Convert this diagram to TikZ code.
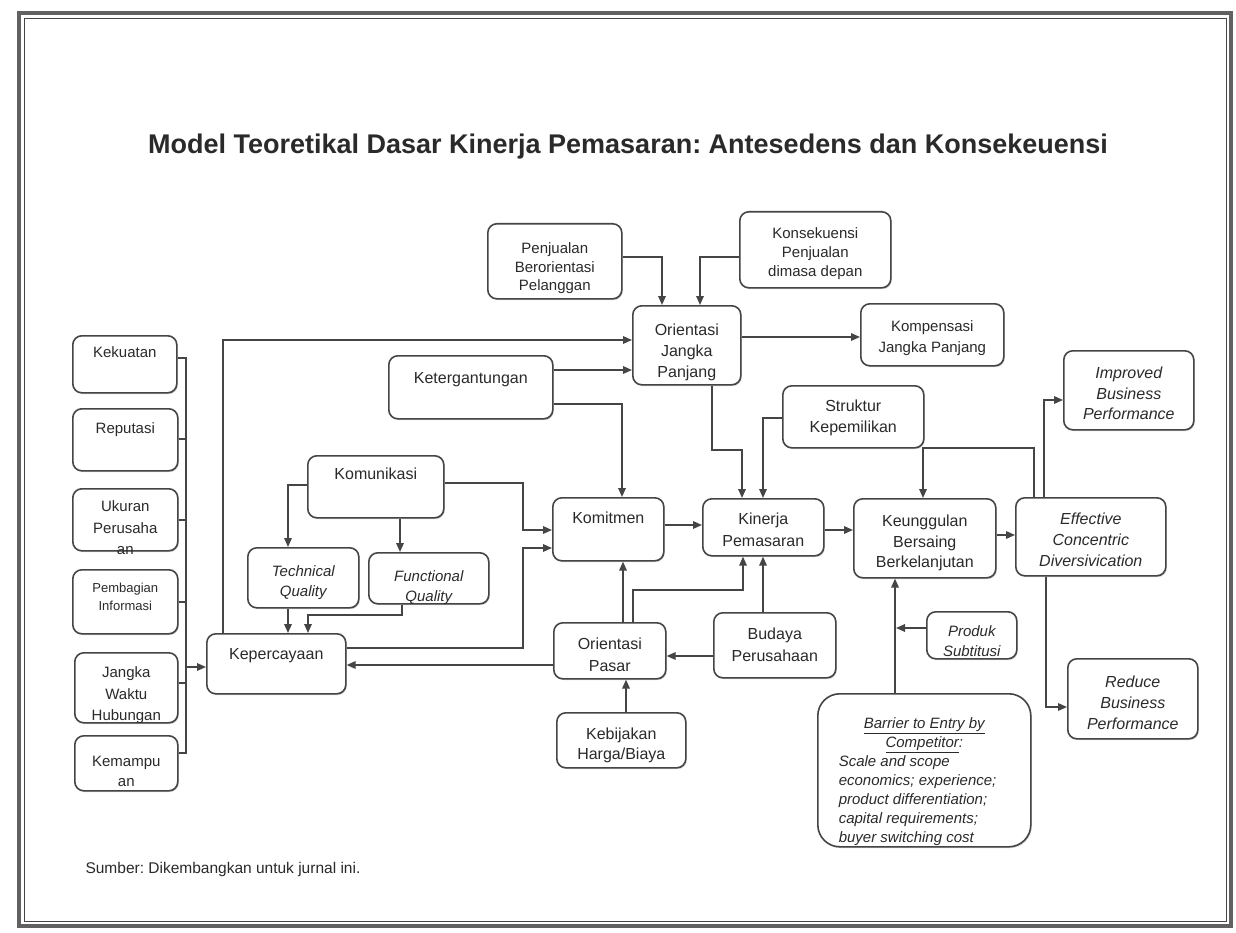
\documentclass[tikz,border=0pt]{standalone}
\usepackage{fontspec}
\setmainfont{Liberation Sans}
\usetikzlibrary{arrows.meta,shadows}
\frenchspacing
\definecolor{lnc}{HTML}{454545}
\definecolor{tx}{HTML}{2A2A2A}
\tikzset{
  box/.style={draw=lnc, line width=1.6pt, rounded corners=9pt, inner sep=0pt, fill=white, text=tx,
    drop shadow={shadow xshift=1pt,shadow yshift=-1.3pt,opacity=0.35}},
  arr/.style={draw=lnc, line width=1.6pt, -{Triangle[length=9pt,width=7.5pt]}},
  lnk/.style={draw=lnc, line width=1.6pt},
}
% name, x, y, w, h, pad, fontsize, baselineskip, text
\newcommand\bx[9]{%
  \node[box, anchor=north west] (#1) at (#2,#3)
    {\vbox to #5pt{\hsize=#4pt\fontsize{#7}{#8}\selectfont\centering\vskip #6pt\rule{0pt}{12pt}#9\par\vfil}};}
\begin{document}
\begin{tikzpicture}[x=1pt,y=-1pt]
\useasboundingbox (0,0) rectangle (1236,933);
\fill[white] (0,0) rectangle (1236,933);
\draw[draw=lnc!85, line width=3.2pt] (19,13) rectangle (1231,926);
\draw[draw=lnc, line width=0.9pt] (24.5,18.5) rectangle (1226,921);

\node[font=\fontsize{27}{32}\selectfont\bfseries, text=tx] (title) at (628,147)
  {Model Teoretikal Dasar Kinerja Pemasaran: Antesedens dan Konsekeuensi};

% left column
\bx{kek}{72}{335}{104}{57}{10}{15}{20}{Kekuatan}
\bx{rep}{72}{408}{105}{62}{13}{15}{20}{Reputasi}
\bx{uku}{72}{488}{105}{62}{11}{15}{21.5}{Ukuran\\Perusaha\\an}
\bx{pem}{72}{569}{105}{64}{11}{13}{18}{Pembagian\\Informasi}
\bx{jwh}{74}{652}{103}{70}{13}{15}{21.5}{Jangka\\Waktu\\Hubungan}
\bx{kem}{74}{735}{103}{55}{19}{15}{20}{Kemampu\\an}

\bx{kep}{206}{633}{139}{60}{14}{16}{20}{Kepercayaan}
\bx{kmk}{307}{455}{136}{62}{12}{16}{20}{Komunikasi}
\bx{tq}{247}{547}{111}{60}{17}{15}{20}{\itshape Technical\\Quality}
\bx{fq}{368}{552}{120}{51}{17}{15}{20}{\itshape Functional\\Quality}
\bx{ket}{388}{355}{164}{63}{16}{16}{20}{Ketergantungan}
\bx{ojp}{632}{305}{108}{79}{18}{16}{21}{Orientasi\\Jangka\\Panjang}
\bx{pbp}{487}{223}{134}{75}{18}{15}{18.5}{Penjualan\\Berorientasi\\Pelanggan}
\bx{kons}{739}{211}{151}{76}{15}{15}{19}{Konsekuensi\\Penjualan\\dimasa depan}
\bx{komp}{860}{303}{143}{62}{16}{15}{21}{Kompensasi\\Jangka Panjang}
\bx{str}{782}{385}{141}{62}{14}{16}{21}{Struktur\\Kepemilikan}
\bx{kin}{702}{498}{121}{57}{14}{16}{21.5}{Kinerja\\Pemasaran}
\bx{kmt}{552}{497}{111}{63}{14}{16}{20}{Komitmen}
\bx{op}{553}{622}{112}{56}{15}{16}{21.5}{Orientasi\\Pasar}
\bx{bud}{713}{612}{122}{65}{15}{16}{22}{Budaya\\Perusahaan}
\bx{keb}{556}{712}{129}{55}{15}{16}{20}{Kebijakan\\Harga/Biaya}
\bx{keu}{853}{498}{142}{79}{16}{16}{20.5}{Keunggulan\\Bersaing\\Berkelanjutan}
\bx{eff}{1015}{497}{150}{78}{15}{16}{21}{\itshape Effective\\Concentric\\Diversivication}
\bx{imp}{1063}{350}{130}{79}{16}{16}{20.5}{\itshape Improved\\Business\\Performance}
\bx{red}{1067}{658}{130}{80}{17}{16}{21}{\itshape Reduce\\Business\\Performance}
\bx{prod}{926}{611}{90}{47}{13}{15}{20}{\itshape Produk\\Subtitusi}

\node[box, rounded corners=22pt, anchor=north west] (bar) at (817,693)
  {\vbox to 153pt{\hsize=213pt\fontsize{15}{19}\selectfont\itshape\centering\vskip 23pt
   \rule{0pt}{12pt}\underline{Barrier to Entry by}\\\underline{Competitor}:\par
   \raggedright\leftskip=21pt
   Scale and scope\\economics; experience;\\product differentiation;\\capital requirements;\\buyer switching cost\par\vfil}};

\node[anchor=base west, font=\fontsize{15.5}{18}\selectfont, text=tx] (src) at (82,873)
  {Sumber: Dikembangkan untuk jurnal ini.};

% bus on the left
\coordinate (busmid) at (186,667);
\draw[lnk] (kek.east |- 0,358) -| (busmid);
\draw[lnk] (kem.east |- 0,753) -| (busmid);
\draw[lnk] (rep.east |- 0,439) -- (busmid |- 0,439);
\draw[lnk] (uku.east |- 0,520) -- (busmid |- 0,520);
\draw[lnk] (pem.east |- 0,602) -- (busmid |- 0,602);
\draw[lnk] (jwh.east |- 0,683) -- (busmid |- 0,683);
\draw[arr] (busmid) -- (kep.west |- busmid);

% connectors
\draw[arr] (kep.north -| 223,0) |- (ojp.west |- 0,340);
\draw[arr] (ket.east |- 0,370) -- (ojp.west |- 0,370);
\draw[arr] (ket.east |- 0,404) -| (kmt.north -| 622,0);
\draw[arr] (pbp.east |- 0,257) -| (ojp.north -| 662,0);
\draw[arr] (kons.west |- 0,257) -| (ojp.north -| 700,0);
\draw[arr] (ojp.east |- 0,337) -- (komp.west |- 0,337);
\draw[arr] (ojp.south -| 712,0) -- (712,450) -| (kin.north -| 742,0);
\draw[arr] (str.west |- 0,418) -| (kin.north -| 763,0);
\draw[arr] (eff.north -| 1034,0) |- (923,448) -- (keu.north -| 923,0);
\draw[arr] (kmt.east |- 0,525) -- (kin.west |- 0,525);
\draw[arr] (kin.east |- 0,530) -- (keu.west |- 0,530);
\draw[arr] (keu.east |- 0,535) -- (eff.west |- 0,535);
\draw[arr] (eff.north -| 1044,0) |- (imp.west |- 0,400);
\draw[arr] (eff.south -| 1046,0) |- (red.west |- 0,707);
\draw[arr] (bar.north -| 895,0) -- (keu.south -| 895,0);
\coordinate (pj) at (896,628);
\draw[arr] (prod.west |- 0,628) -- (pj);
\draw[arr] (op.north -| 623,0) -- (kmt.south -| 623,0);
\draw[arr] (op.north -| 633,0) |- (743,590) -- (kin.south -| 743,0);
\draw[arr] (bud.north -| 763,0) -- (kin.south -| 763,0);
\draw[arr] (bud.west |- 0,656) -- (op.east |- 0,656);
\draw[arr] (keb.north -| 626,0) -- (op.south -| 626,0);
\draw[arr] (op.west |- 0,665) -- (kep.east |- 0,665);
\draw[arr] (kep.east |- 0,648) -| (523,548) -- (kmt.west |- 0,548);
\draw[arr] (kmk.east |- 0,483) -| (523,530) -- (kmt.west |- 0,530);
\draw[arr] (kmk.west |- 0,485) -| (tq.north -| 288,0);
\draw[arr] (kmk.south -| 400,0) -- (fq.north -| 400,0);
\draw[arr] (tq.south -| 288,0) -- (kep.north -| 288,0);
\draw[arr] (fq.south -| 402,0) |- (308,615) -- (kep.north -| 308,0);
\end{tikzpicture}
\end{document}
